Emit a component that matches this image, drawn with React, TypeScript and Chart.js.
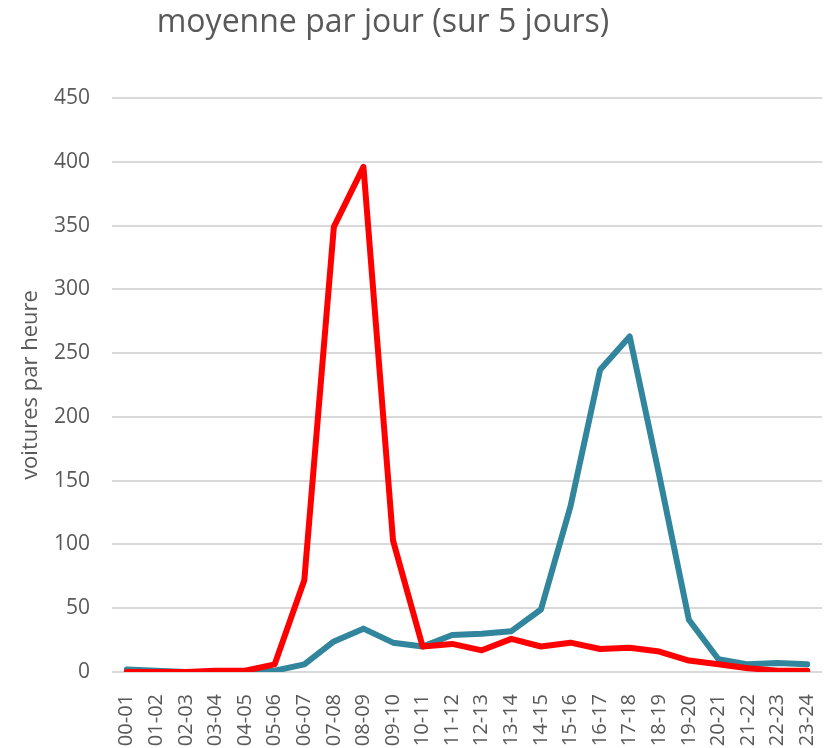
import React, { useEffect, useRef } from "react";
import { Chart, registerables } from "chart.js";

Chart.register(...registerables);

const hours = [
  "00-01", "01-02", "02-03", "03-04", "04-05", "05-06", "06-07", "07-08",
  "08-09", "09-10", "10-11", "11-12", "12-13", "13-14", "14-15", "15-16",
  "16-17", "17-18", "18-19", "19-20", "20-21", "21-22", "22-23", "23-24",
];

const redSeries = [0, 0, 0, 1, 1, 6, 72, 349, 396, 103, 20, 22, 17, 26, 20, 23, 18, 19, 16, 9, 6, 3, 1, 1];
const tealSeries = [2, 1, 0, 0, 0, 1, 6, 24, 34, 23, 20, 29, 30, 32, 49, 130, 237, 263, 154, 41, 10, 6, 7, 6];

const yTicks = [0, 50, 100, 150, 200, 250, 300, 350, 400, 450];

const titleText = "moyenne par jour (sur 5 jours)";
const yTitle = "voitures par heure";

const FONT = "'Open Sans', 'Noto Sans', sans-serif";
const TEXT = "#595959";

const titlePlugin = {
  id: "offsetTitle",
  afterDraw(chart: any) {
    const ctx = chart.ctx;
    ctx.save();
    ctx.font = `32px ${FONT}`;
    ctx.fillStyle = TEXT;
    ctx.textAlign = "center";
    ctx.textBaseline = "middle";
    ctx.fillText(titleText, 383, 23);
    ctx.restore();
  },
};

export default function App() {
  const ref = useRef<HTMLCanvasElement | null>(null);
  useEffect(() => {
    document.body.style.margin = "0";
    if (!ref.current) return;
    const lineStyle = {
      borderWidth: 6,
      pointRadius: 0,
      tension: 0,
      borderCapStyle: "round" as const,
      borderJoinStyle: "round" as const,
    };
    const chart = new Chart(ref.current, {
      type: "line",
      data: {
        labels: hours,
        datasets: [
          { data: redSeries, borderColor: "#FF0000", backgroundColor: "#FF0000", ...lineStyle },
          { data: tealSeries, borderColor: "#31859C", backgroundColor: "#31859C", ...lineStyle },
        ],
      },
      options: {
        animation: false,
        responsive: false,
        layout: { padding: { top: 98, left: 18, right: 8, bottom: 0 } },
        plugins: {
          legend: { display: false },
          title: { display: false },
          tooltip: { enabled: false },
        },
        scales: {
          x: {
            offset: true,
            grid: { display: false },
            border: { display: false },
            afterFit(scale: any) {
              scale.height = 76;
              scale.paddingLeft = 0;
              scale.paddingRight = 0;
            },
            ticks: {
              minRotation: 90,
              maxRotation: 90,
              autoSkip: false,
              color: TEXT,
              font: { size: 20, family: FONT },
              padding: 14,
            },
          },
          y: {
            min: 0,
            max: 450,
            grid: { color: "#d9d9d9", lineWidth: 2, drawTicks: false },
            border: { display: false },
            afterFit(scale: any) {
              scale.width = 94;
              scale.paddingTop = 0;
              scale.paddingBottom = 0;
            },
            afterBuildTicks(scale: any) {
              scale.ticks = yTicks.map((v) => ({ value: v }));
            },
            ticks: {
              color: TEXT,
              font: { size: 21, family: FONT },
              padding: 22,
            },
            title: {
              display: true,
              text: yTitle,
              color: TEXT,
              font: { size: 22, family: FONT },
              padding: 0,
            },
          },
        },
      },
      plugins: [titlePlugin],
    });
    return () => chart.destroy();
  }, []);
  return <canvas ref={ref} width={830} height={748} />;
}
